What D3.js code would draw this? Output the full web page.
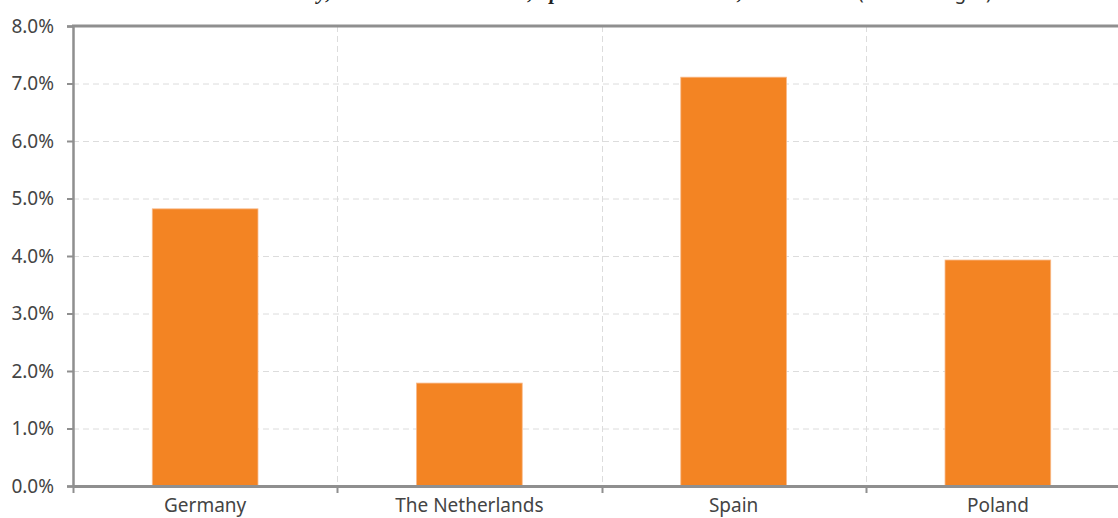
<!DOCTYPE html>
<html>
<head>
<meta charset="utf-8">
<script src="https://cdn.jsdelivr.net/npm/d3@7"></script>
<style>
  html, body { margin: 0; padding: 0; background: #fff; overflow: hidden; }
  svg { display: block; }
</style>
</head>
<body>
<svg id="chart" width="1118" height="518"></svg>
<script>
const categories = ["Germany", "The Netherlands", "Spain", "Poland"];
const values = [4.82, 1.79, 7.11, 3.93];
const yTicks = [0, 1, 2, 3, 4, 5, 6, 7, 8];
const titleParts = ["Labour costs in Germany,", "The Netherlands,", "Spain and Poland,", "2010-2020"];
const titleSub = "(in % of wages)";

const svg = d3.select("#chart");
const margin = { left: 73, top: 26, bottom: 32 };
const plotRight = 1130;
const H = 518;

const x = d3.scaleBand().domain(categories).range([margin.left, plotRight]).padding(0);
const y = d3.scaleLinear().domain([0, 8]).range([H - margin.bottom, margin.top]);

const axisColor = "#8f8f8f";
const gridColor = "#dcdcdc";
const labelFont = "'Noto Sans', sans-serif";

// Title (clipped at the top edge, as in the reference)
const titleAnchors = [[331, "end", 0], [533, "end", 0], [538, "start", 22], [848, "end", 0]];
titleParts.forEach((p, i) => {
  svg.append("text")
    .attr("x", titleAnchors[i][0]).attr("y", -1)
    .attr("text-anchor", titleAnchors[i][1])
    .attr("word-spacing", titleAnchors[i][2])
    .attr("font-family", "'Liberation Serif', serif")
    .attr("font-size", 21)
    .attr("font-weight", "bold")
    .attr("font-style", "italic")
    .attr("fill", "#222")
    .text(p);
});
svg.append("text")
  .attr("x", 858).attr("y", -1)
  .attr("font-family", labelFont).attr("font-size", 19).attr("fill", "#333")
  .text(titleSub);

// Horizontal gridlines
svg.append("g").selectAll("line").data(yTicks.filter(d => d > 0 && d < 8)).join("line")
  .attr("x1", margin.left).attr("x2", plotRight)
  .attr("y1", d => y(d) + 0.5).attr("y2", d => y(d) + 0.5)
  .attr("stroke", gridColor).attr("stroke-width", 1).attr("stroke-dasharray", "6,4");

// Vertical gridlines at category boundaries
svg.append("g").selectAll("line").data(categories.slice(1)).join("line")
  .attr("x1", d => Math.round(x(d)) + 0.5).attr("x2", d => Math.round(x(d)) + 0.5)
  .attr("y1", y(8)).attr("y2", y(0))
  .attr("stroke", gridColor).attr("stroke-width", 1).attr("stroke-dasharray", "6,4");

// Bars
const barFrac = 0.4;
svg.append("g").selectAll("rect").data(categories).join("rect")
  .attr("x", d => x(d) + x.bandwidth() * (1 - barFrac) / 2)
  .attr("width", x.bandwidth() * barFrac)
  .attr("y", (d, i) => y(values[i]))
  .attr("height", (d, i) => y(0) - y(values[i]))
  .attr("fill", "#F38423")
  .attr("stroke", "#F8B98A")
  .attr("stroke-width", 0.8);

// Top border line
svg.append("line")
  .attr("x1", margin.left - 1).attr("x2", plotRight)
  .attr("y1", y(8)).attr("y2", y(8))
  .attr("stroke", axisColor).attr("stroke-width", 3);

// Y axis
const yAxis = d3.axisLeft(y).tickValues(yTicks)
  .tickFormat(d => d3.format(".1f")(d) + "%")
  .tickSize(6).tickPadding(13);
const gy = svg.append("g").attr("transform", `translate(${margin.left},0)`).call(yAxis);
gy.select(".domain").attr("stroke", axisColor).attr("stroke-width", 2.5);
gy.selectAll(".tick line").attr("stroke", axisColor).attr("stroke-width", 2);
gy.selectAll(".tick text")
  .attr("font-family", labelFont).attr("font-size", 19).attr("fill", "#444");

// X axis
const xAxis = d3.axisBottom(x).tickSize(0).tickPadding(13);
const gx = svg.append("g").attr("transform", `translate(0,${y(0)})`).call(xAxis);
gx.select(".domain").attr("stroke", axisColor).attr("stroke-width", 3);
gx.selectAll(".tick text")
  .attr("font-family", labelFont).attr("font-size", 19).attr("fill", "#444");
// boundary ticks
gx.append("g").selectAll("line").data(categories).join("line")
  .attr("x1", d => Math.round(x(d)) + 0.5).attr("x2", d => Math.round(x(d)) + 0.5)
  .attr("y1", 0).attr("y2", 7)
  .attr("stroke", axisColor).attr("stroke-width", 2);
</script>
</body>
</html>
